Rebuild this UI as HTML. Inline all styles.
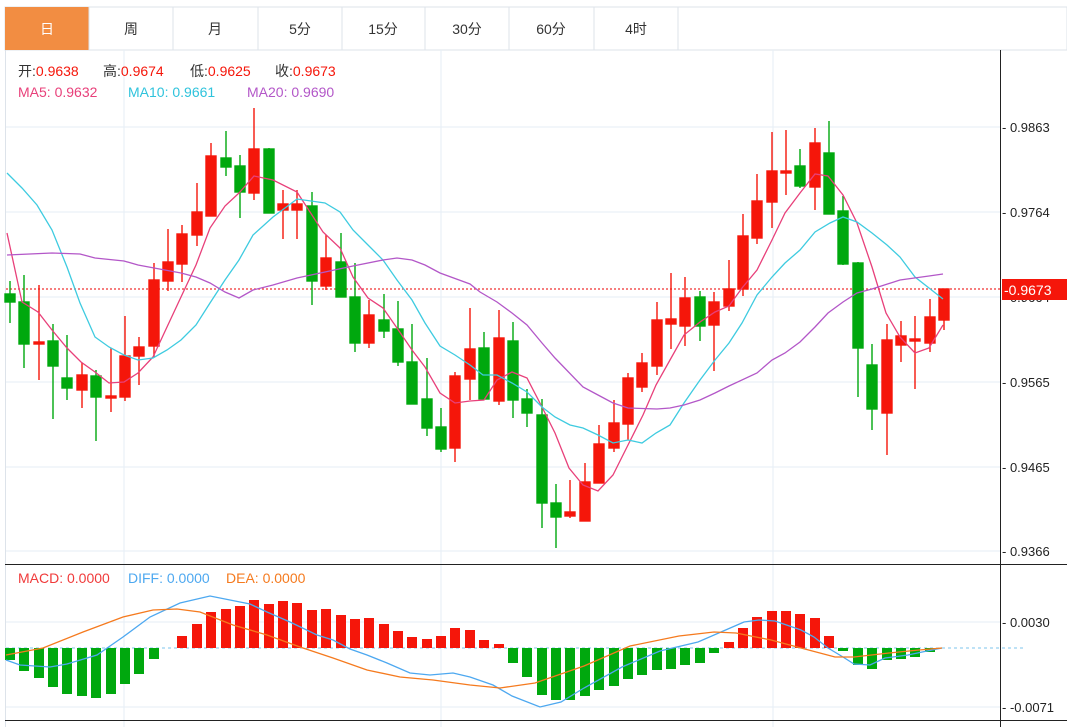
<!DOCTYPE html>
<html><head><meta charset="utf-8"><style>
body{margin:0;background:#fff;width:1067px;height:727px;overflow:hidden;font-family:"Liberation Sans","Noto Sans CJK SC",sans-serif}
svg{position:absolute;left:0;top:0}
</style></head><body>
<svg width="1067" height="727" xmlns="http://www.w3.org/2000/svg" font-family="Liberation Sans, Noto Sans CJK SC, sans-serif">
<rect x="5" y="7" width="1062" height="43" fill="#fff" stroke="#dde3ea"/>
<rect x="5" y="7" width="84" height="43" fill="#f28d42"/>
<g stroke="#dde3ea"><line x1="89" y1="7" x2="89" y2="50"/><line x1="173" y1="7" x2="173" y2="50"/><line x1="258" y1="7" x2="258" y2="50"/><line x1="342" y1="7" x2="342" y2="50"/><line x1="425" y1="7" x2="425" y2="50"/><line x1="509" y1="7" x2="509" y2="50"/><line x1="594" y1="7" x2="594" y2="50"/><line x1="678" y1="7" x2="678" y2="50"/></g>
<g font-size="14" text-anchor="middle" fill="#333"><text x="47" y="34" fill="#fff">日</text><text x="131" y="34">周</text><text x="215" y="34">月</text><text x="300" y="34">5分</text><text x="383" y="34">15分</text><text x="467" y="34">30分</text><text x="551" y="34">60分</text><text x="636" y="34">4时</text></g>
<line x1="5.5" y1="50" x2="5.5" y2="727" stroke="#dde3ea"/>
<g stroke="#e6eef5"><line x1="6" y1="127" x2="1000" y2="127"/><line x1="6" y1="212" x2="1000" y2="212"/><line x1="6" y1="297" x2="1000" y2="297"/><line x1="6" y1="382" x2="1000" y2="382"/><line x1="6" y1="467" x2="1000" y2="467"/><line x1="6" y1="551" x2="1000" y2="551"/><line x1="6" y1="622" x2="1000" y2="622"/><line x1="6" y1="707" x2="1000" y2="707"/>
<line x1="124" y1="50" x2="124" y2="727"/><line x1="441" y1="50" x2="441" y2="727"/><line x1="773" y1="50" x2="773" y2="727"/></g>
<line x1="1000.5" y1="50" x2="1000.5" y2="727" stroke="#222"/>
<line x1="5" y1="564.5" x2="1067" y2="564.5" stroke="#222"/>
<line x1="5" y1="720.5" x2="1067" y2="720.5" stroke="#222"/>
<g font-size="13" fill="#222"><text x="1002" y="132">- 0.9863</text><text x="1002" y="217">- 0.9764</text><text x="1002" y="302">- 0.9664</text><text x="1002" y="387">- 0.9565</text><text x="1002" y="472">- 0.9465</text><text x="1002" y="556">- 0.9366</text><text x="1002" y="627">- 0.0030</text><text x="1002" y="712">- -0.0071</text></g>
<line x1="6" y1="289" x2="1000" y2="289" stroke="#f03030" stroke-dasharray="2,2" stroke-width="1.2"/>
<rect x="1002" y="279" width="65" height="21" fill="#f5160a"/>
<text x="1004" y="295" font-size="14" fill="#fff">-0.9673</text>
<g font-size="14">
<text x="18" y="76" fill="#333">开:<tspan fill="#f5160a">0.9638</tspan></text>
<text x="103" y="76" fill="#333">高:<tspan fill="#f5160a">0.9674</tspan></text>
<text x="190" y="76" fill="#333">低:<tspan fill="#f5160a">0.9625</tspan></text>
<text x="275" y="76" fill="#333">收:<tspan fill="#f5160a">0.9673</tspan></text>
<text x="18" y="97" fill="#e8407a">MA5: 0.9632</text><text x="128" y="97" fill="#2fc3dc">MA10: 0.9661</text><text x="247" y="97" fill="#b357c8">MA20: 0.9690</text>
<text x="18" y="583" fill="#f03a3a">MACD: 0.0000</text><text x="128" y="583" fill="#4da8f0">DIFF: 0.0000</text><text x="226" y="583" fill="#f57a1e">DEA: 0.0000</text></g>
<g stroke-width="1.4">
<g stroke="#00a80e" fill="#00a80e">
<line x1="10" y1="281" x2="10" y2="323"/><rect x="5" y="294" width="10" height="8"/>
<line x1="24" y1="275" x2="24" y2="368"/><rect x="19" y="302" width="10" height="42"/>
<line x1="53" y1="324" x2="53" y2="419"/><rect x="48" y="341" width="10" height="25"/>
<line x1="67" y1="335" x2="67" y2="400"/><rect x="62" y="378" width="10" height="10"/>
<line x1="96" y1="370" x2="96" y2="441"/><rect x="91" y="376" width="10" height="21"/>
<line x1="226" y1="131" x2="226" y2="176"/><rect x="221" y="158" width="10" height="9"/>
<line x1="240" y1="155" x2="240" y2="218"/><rect x="235" y="166" width="10" height="26"/>
<line x1="269" y1="148" x2="269" y2="213"/><rect x="264" y="149" width="10" height="64"/>
<line x1="312" y1="192" x2="312" y2="305"/><rect x="307" y="206" width="10" height="75"/>
<line x1="341" y1="233" x2="341" y2="297"/><rect x="336" y="262" width="10" height="35"/>
<line x1="355" y1="263" x2="355" y2="352"/><rect x="350" y="297" width="10" height="46"/>
<line x1="384" y1="294" x2="384" y2="338"/><rect x="379" y="320" width="10" height="11"/>
<line x1="398" y1="301" x2="398" y2="366"/><rect x="393" y="329" width="10" height="33"/>
<line x1="412" y1="324" x2="412" y2="404"/><rect x="407" y="362" width="10" height="42"/>
<line x1="427" y1="358" x2="427" y2="436"/><rect x="422" y="399" width="10" height="29"/>
<line x1="441" y1="408" x2="441" y2="452"/><rect x="436" y="427" width="10" height="22"/>
<line x1="484" y1="332" x2="484" y2="400"/><rect x="479" y="348" width="10" height="51"/>
<line x1="513" y1="322" x2="513" y2="418"/><rect x="508" y="341" width="10" height="59"/>
<line x1="527" y1="389" x2="527" y2="427"/><rect x="522" y="399" width="10" height="14"/>
<line x1="542" y1="399" x2="542" y2="528"/><rect x="537" y="415" width="10" height="88"/>
<line x1="556" y1="484" x2="556" y2="548"/><rect x="551" y="503" width="10" height="14"/>
<line x1="700" y1="291" x2="700" y2="341"/><rect x="695" y="297" width="10" height="29"/>
<line x1="800" y1="149" x2="800" y2="188"/><rect x="795" y="166" width="10" height="20"/>
<line x1="829" y1="121" x2="829" y2="214"/><rect x="824" y="153" width="10" height="61"/>
<line x1="843" y1="196" x2="843" y2="265"/><rect x="838" y="211" width="10" height="53"/>
<line x1="858" y1="262" x2="858" y2="397"/><rect x="853" y="263" width="10" height="85"/>
<line x1="872" y1="344" x2="872" y2="430"/><rect x="867" y="365" width="10" height="44"/>
</g>
<g stroke="#f5160a" fill="#f5160a">
<line x1="39" y1="285" x2="39" y2="380"/><rect x="34" y="342" width="10" height="2"/>
<line x1="82" y1="363" x2="82" y2="408"/><rect x="77" y="375" width="10" height="15"/>
<line x1="111" y1="348" x2="111" y2="412"/><rect x="106" y="396" width="10" height="2"/>
<line x1="125" y1="316" x2="125" y2="401"/><rect x="120" y="356" width="10" height="41"/>
<line x1="139" y1="337" x2="139" y2="385"/><rect x="134" y="347" width="10" height="9"/>
<line x1="154" y1="263" x2="154" y2="357"/><rect x="149" y="280" width="10" height="66"/>
<line x1="168" y1="229" x2="168" y2="291"/><rect x="163" y="262" width="10" height="19"/>
<line x1="182" y1="225" x2="182" y2="282"/><rect x="177" y="234" width="10" height="30"/>
<line x1="197" y1="183" x2="197" y2="246"/><rect x="192" y="212" width="10" height="23"/>
<line x1="211" y1="143" x2="211" y2="216"/><rect x="206" y="156" width="10" height="60"/>
<line x1="254" y1="108" x2="254" y2="200"/><rect x="249" y="149" width="10" height="44"/>
<line x1="283" y1="190" x2="283" y2="239"/><rect x="278" y="204" width="10" height="6"/>
<line x1="297" y1="190" x2="297" y2="239"/><rect x="292" y="204" width="10" height="6"/>
<line x1="326" y1="235" x2="326" y2="290"/><rect x="321" y="258" width="10" height="28"/>
<line x1="369" y1="300" x2="369" y2="348"/><rect x="364" y="315" width="10" height="28"/>
<line x1="455" y1="372" x2="455" y2="462"/><rect x="450" y="376" width="10" height="72"/>
<line x1="470" y1="308" x2="470" y2="400"/><rect x="465" y="349" width="10" height="30"/>
<line x1="499" y1="310" x2="499" y2="405"/><rect x="494" y="338" width="10" height="63"/>
<line x1="570" y1="480" x2="570" y2="518"/><rect x="565" y="512" width="10" height="4"/>
<line x1="585" y1="463" x2="585" y2="521"/><rect x="580" y="482" width="10" height="39"/>
<line x1="599" y1="425" x2="599" y2="483"/><rect x="594" y="444" width="10" height="39"/>
<line x1="614" y1="400" x2="614" y2="452"/><rect x="609" y="423" width="10" height="25"/>
<line x1="628" y1="373" x2="628" y2="440"/><rect x="623" y="378" width="10" height="46"/>
<line x1="642" y1="353" x2="642" y2="392"/><rect x="637" y="363" width="10" height="24"/>
<line x1="657" y1="302" x2="657" y2="375"/><rect x="652" y="320" width="10" height="46"/>
<line x1="671" y1="273" x2="671" y2="349"/><rect x="666" y="319" width="10" height="5"/>
<line x1="685" y1="277" x2="685" y2="346"/><rect x="680" y="298" width="10" height="28"/>
<line x1="714" y1="292" x2="714" y2="371"/><rect x="709" y="302" width="10" height="23"/>
<line x1="729" y1="260" x2="729" y2="311"/><rect x="724" y="289" width="10" height="17"/>
<line x1="743" y1="214" x2="743" y2="296"/><rect x="738" y="236" width="10" height="53"/>
<line x1="757" y1="174" x2="757" y2="244"/><rect x="752" y="201" width="10" height="37"/>
<line x1="772" y1="132" x2="772" y2="228"/><rect x="767" y="171" width="10" height="31"/>
<line x1="786" y1="130" x2="786" y2="195"/><rect x="781" y="171" width="10" height="2"/>
<line x1="815" y1="128" x2="815" y2="210"/><rect x="810" y="143" width="10" height="44"/>
<line x1="887" y1="324" x2="887" y2="455"/><rect x="882" y="340" width="10" height="73"/>
<line x1="901" y1="321" x2="901" y2="362"/><rect x="896" y="336" width="10" height="9"/>
<line x1="915" y1="316" x2="915" y2="389"/><rect x="910" y="339" width="10" height="2"/>
<line x1="930" y1="299" x2="930" y2="352"/><rect x="925" y="317" width="10" height="26"/>
<line x1="944" y1="289" x2="944" y2="330"/><rect x="939" y="289" width="10" height="31"/>
</g></g>
<g fill="none" stroke-width="1.3">
<polyline stroke="#e8407a" points="7,233 22,302 38,312 52,330 67,348 81,362 95,372 109,383 124,382 138,373 153,357 167,327 181,297 196,265 210,228 225,206 239,193 254,176 273,180 297,192 323,232 340,248 353,277 368,298 383,308 397,328 412,350 425,367 440,393 455,403 470,401 484,400 497,380 512,372 527,378 542,407 555,433 569,468 583,485 598,491 613,475 628,445 643,415 656,385 670,360 684,335 700,322 715,312 729,306 742,288 757,270 772,240 785,213 800,193 815,174 828,176 843,195 857,223 872,267 886,313 900,337 915,353 929,348 943,325"/>
<polyline stroke="#3ecbe0" points="7,173 22,188 37,205 52,230 67,267 80,303 95,337 109,347 124,355 138,360 153,358 167,350 181,340 196,325 210,303 225,280 239,260 253,235 273,217 297,199 325,203 340,212 353,230 368,245 383,260 397,280 412,300 425,323 440,346 455,355 470,365 483,375 497,375 512,383 527,392 542,407 555,417 570,425 583,428 598,435 613,443 628,440 642,443 656,433 670,425 684,403 700,380 715,360 729,343 742,323 757,295 772,277 785,263 800,250 815,232 830,223 843,217 857,222 872,233 887,245 900,257 915,277 929,288 943,299"/>
<polyline stroke="#b357c8" points="7,255 52,253 80,254 95,258 124,261 138,265 181,273 196,277 210,283 225,292 239,298 253,290 273,285 297,278 325,272 353,266 383,260 397,258 412,260 425,265 440,273 470,284 480,292 497,302 512,313 527,325 542,343 555,358 583,387 598,395 613,403 628,408 657,409 670,408 684,405 700,400 715,393 729,386 757,373 772,360 785,353 800,342 815,327 828,313 843,302 857,293 872,289 900,280 929,276 943,274"/>
</g>
<line x1="6" y1="648" x2="1025" y2="648" stroke="#7cc4ee" stroke-dasharray="3,3"/>
<g fill="#00a80e">
<rect x="5" y="648" width="10" height="12"/><rect x="19" y="648" width="10" height="23"/><rect x="34" y="648" width="10" height="30"/><rect x="48" y="648" width="10" height="39"/><rect x="62" y="648" width="10" height="46"/><rect x="77" y="648" width="10" height="48"/><rect x="91" y="648" width="10" height="50"/><rect x="106" y="648" width="10" height="46"/><rect x="120" y="648" width="10" height="36"/><rect x="134" y="648" width="10" height="26"/><rect x="149" y="648" width="10" height="11"/>
<rect x="508" y="648" width="10" height="15"/><rect x="522" y="648" width="10" height="29"/><rect x="537" y="648" width="10" height="47"/><rect x="551" y="648" width="10" height="52"/><rect x="565" y="648" width="10" height="52"/><rect x="580" y="648" width="10" height="48"/><rect x="594" y="648" width="10" height="42"/><rect x="609" y="648" width="10" height="38"/><rect x="623" y="648" width="10" height="31"/><rect x="637" y="648" width="10" height="27"/><rect x="652" y="648" width="10" height="22"/><rect x="666" y="648" width="10" height="21"/><rect x="680" y="648" width="10" height="17"/><rect x="695" y="648" width="10" height="15"/><rect x="709" y="648" width="10" height="5"/>
<rect x="838" y="648" width="10" height="3"/><rect x="853" y="648" width="10" height="17"/><rect x="867" y="648" width="10" height="21"/><rect x="882" y="648" width="10" height="12"/><rect x="896" y="648" width="10" height="11"/><rect x="910" y="648" width="10" height="9"/><rect x="925" y="648" width="10" height="4"/>
</g>
<g fill="#f5160a">
<rect x="177" y="636" width="10" height="12"/><rect x="192" y="624" width="10" height="24"/><rect x="206" y="612" width="10" height="36"/><rect x="221" y="609" width="10" height="39"/><rect x="235" y="606" width="10" height="42"/><rect x="249" y="600" width="10" height="48"/><rect x="264" y="604" width="10" height="44"/><rect x="278" y="601" width="10" height="47"/><rect x="292" y="603" width="10" height="45"/><rect x="307" y="610" width="10" height="38"/><rect x="321" y="609" width="10" height="39"/><rect x="336" y="615" width="10" height="33"/><rect x="350" y="619" width="10" height="29"/><rect x="364" y="618" width="10" height="30"/><rect x="379" y="624" width="10" height="24"/><rect x="393" y="631" width="10" height="17"/><rect x="407" y="637" width="10" height="11"/><rect x="422" y="639" width="10" height="9"/><rect x="436" y="636" width="10" height="12"/><rect x="450" y="628" width="10" height="20"/><rect x="465" y="630" width="10" height="18"/><rect x="479" y="640" width="10" height="8"/><rect x="494" y="644" width="10" height="4"/>
<rect x="724" y="642" width="10" height="6"/><rect x="738" y="628" width="10" height="20"/><rect x="752" y="617" width="10" height="31"/><rect x="767" y="611" width="10" height="37"/><rect x="781" y="611" width="10" height="37"/><rect x="795" y="614" width="10" height="34"/><rect x="810" y="618" width="10" height="30"/><rect x="824" y="636" width="10" height="12"/>
</g>
<g fill="none" stroke-width="1.3">
<polyline stroke="#4da8f0" points="6,660 20,665 50,667 67,664 97,655 123,637 150,617 180,603 210,596 250,604 267,612 290,622 317,635 333,640 350,649 367,655 387,663 410,673 430,675 453,673 470,677 493,685 512,696 540,707 561,702 584,688 622,667 660,651 698,642 721,632 744,622 759,620 775,621 801,630 814,637 828,648 843,657 854,664 870,665 885,658 908,655 927,651 942,648"/>
<polyline stroke="#f57a1e" points="6,655 43,648 83,632 123,617 153,610 177,609 200,612 233,625 267,635 300,647 333,658 367,670 400,677 433,680 470,685 500,688 535,683 584,666 630,646 679,636 714,632 736,633 771,640 801,648 835,657 854,657 889,653 919,650 942,648"/>
</g>
</svg>
</body></html>
